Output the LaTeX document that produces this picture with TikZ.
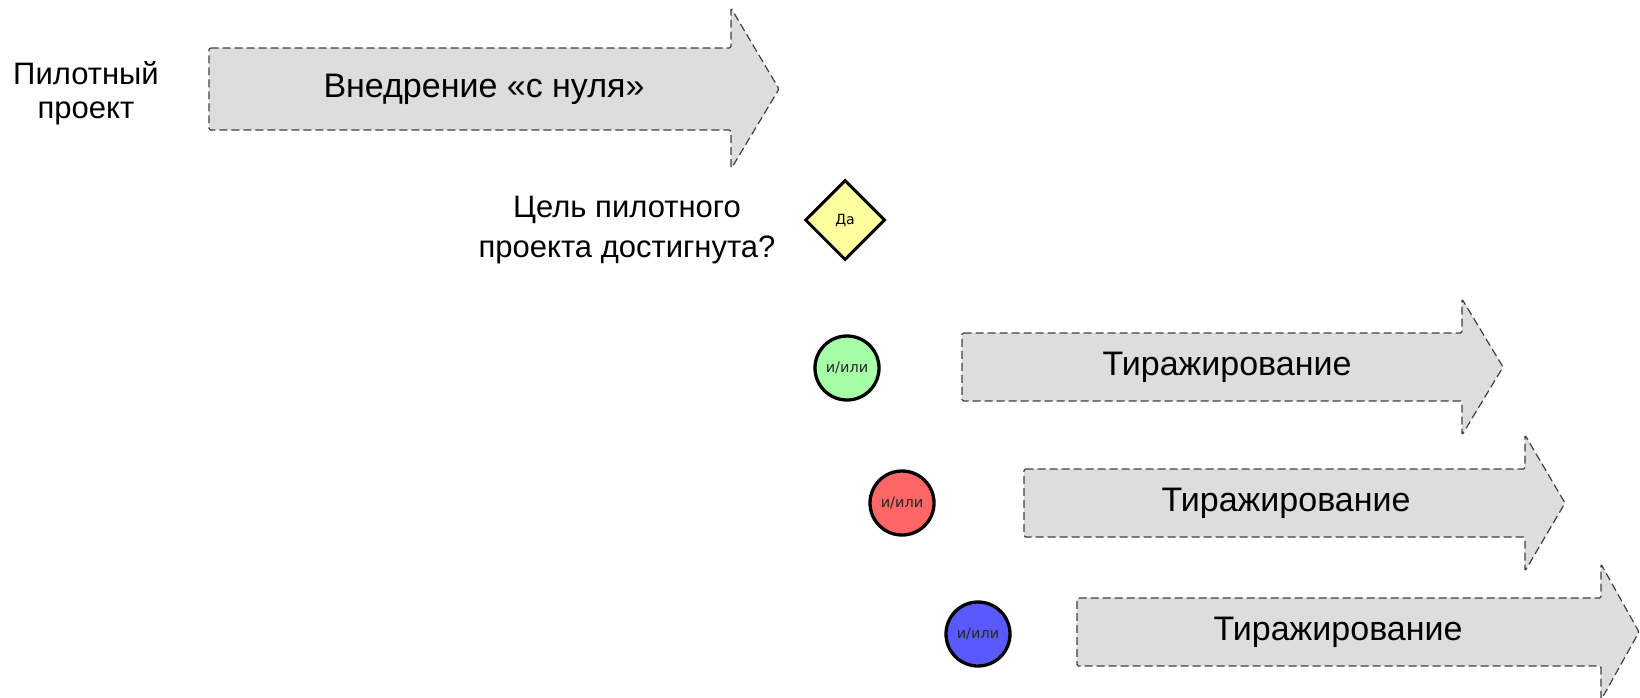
\documentclass[tikz,border=0pt]{standalone}
\usepackage{fontspec}
\setmainfont{Liberation Sans}
\newfontfamily\gatefont{DejaVu Sans}
\usetikzlibrary{positioning,shapes.geometric}

\definecolor{phaseGray}{RGB}{221,221,221}
\definecolor{yesYellow}{RGB}{255,255,160}
\definecolor{gateGreen}{RGB}{166,255,166}
\definecolor{gateRed}{RGB}{255,102,102}
\definecolor{gateBlue}{RGB}{89,89,255}

\begin{document}
\begin{tikzpicture}[x=1pt,y=-1pt,
 phase/.style={draw=black!75,fill=phaseGray,dash pattern=on 8pt off 4pt,line width=1.2pt,rounded corners=1.5pt},
 phaselabel/.style={font=\fontsize{34}{40}\selectfont},
 note/.style={align=center,font=\fontsize{31}{40}\selectfont},
 decision/.style={diamond,draw=black,line width=3pt,fill=yesYellow,minimum width=80pt,minimum height=80pt,inner sep=0pt,font=\gatefont\fontsize{14}{16}\selectfont},
 gate/.style={circle,draw=black,line width=3.3pt,minimum size=64pt,inner sep=0pt,text=black!85,font=\gatefont\fontsize{14.5}{16}\selectfont},
]
\useasboundingbox (0,0) rectangle (1640,697);

% pilot project
\draw[phase] (209,48) -- (731,48) -- (731,8) -- (779,89) -- (731,169) -- (731,130) -- (209,130) -- cycle;
\node (pilot) [phaselabel] at (484,89) {Внедрение «с нуля»};
\node (pilotnote) [note] at (86,93) {Пилотный\\[-6pt]проект};

% decision
\node (yes) [decision] at (845,220) {Да};
\node (goal) [note] at (627,230) {Цель пилотного\\проекта достигнута?};

% roll-out
\foreach \gx/\gy/\gc/\bx/\hx/\tx/\lx/\ly/\n in {847/368/gateGreen/962/1462/1503/1227/367/a,
  902/503/gateRed/1024/1525/1565/1286/503/b,
  978/634/gateBlue/1077/1601/1639/1338/632/c}{
  \node (gate\n) [gate,fill=\gc] at (\gx,\gy) {и/или};
  \draw[phase] (\bx,\ly-34) -- (\hx,\ly-34) -- (\hx,\ly-68) -- (\tx,\ly) -- (\hx,\ly+68) -- (\hx,\ly+34) -- (\bx,\ly+34) -- cycle;
  \node (copy\n) [phaselabel] at (\lx,\ly) {Тиражирование};
}
\end{tikzpicture}
\end{document}
